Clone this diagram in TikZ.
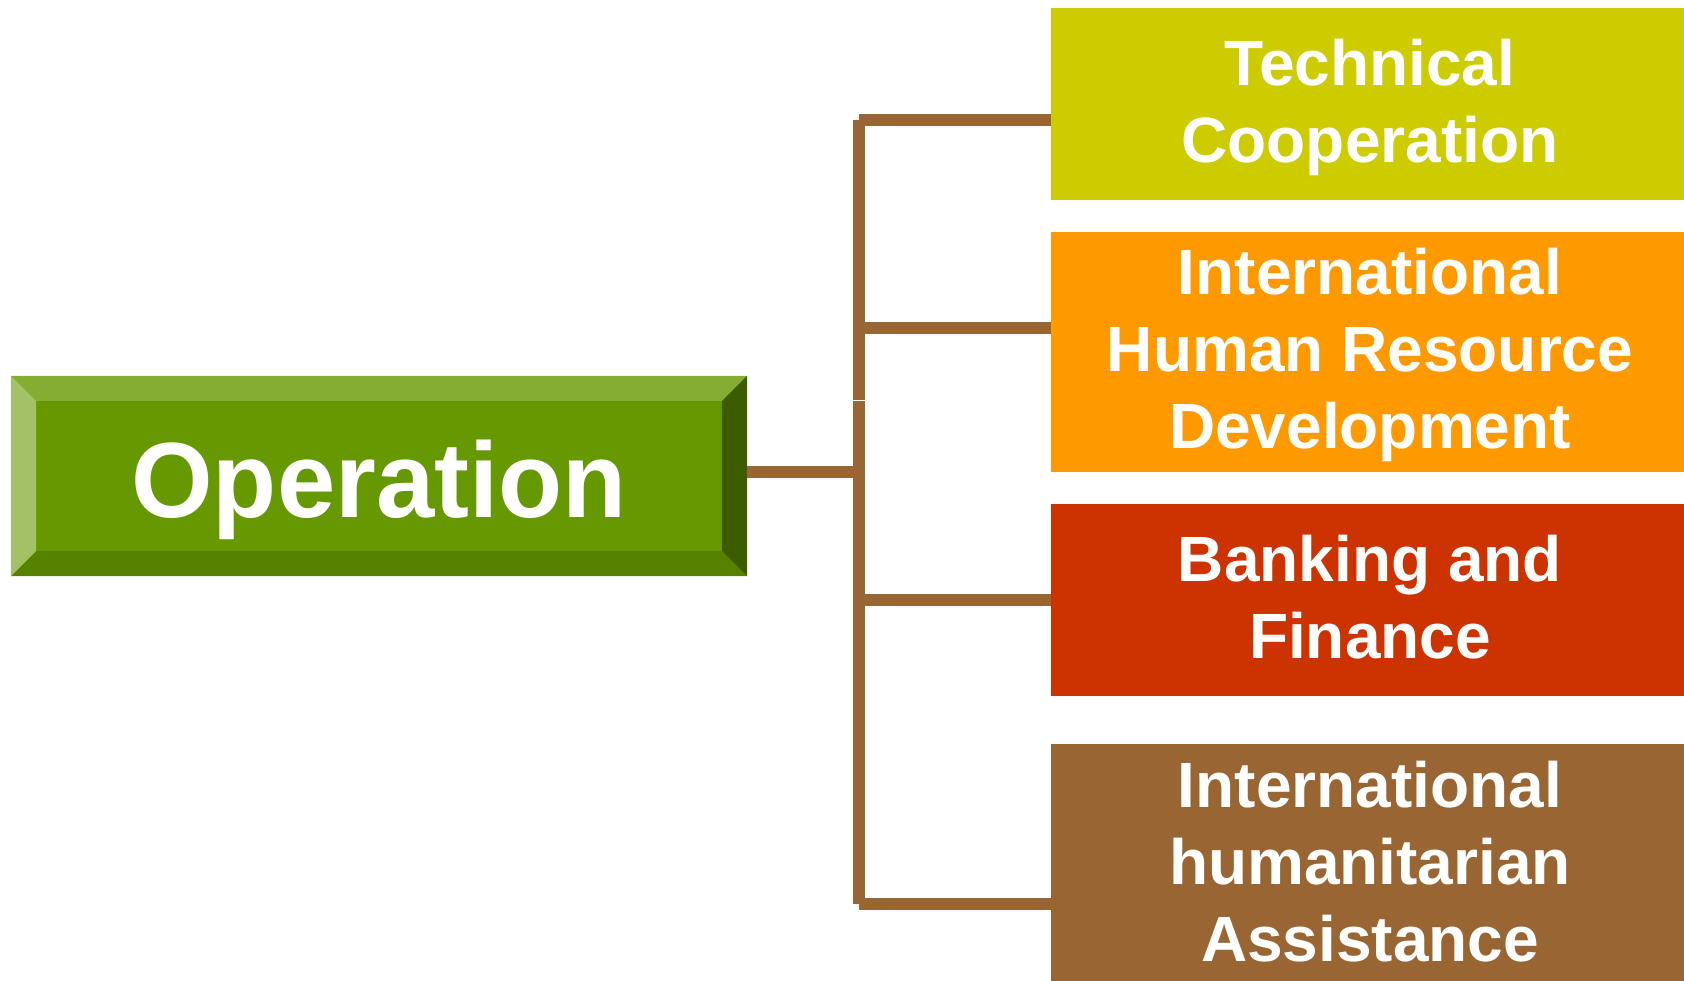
\documentclass[tikz,border=0pt]{standalone}
\usepackage{fontspec}
\newfontfamily\boxfont{Liberation Sans}
\newfontfamily\opfont[FakeStretch=0.98]{Liberation Sans}
\definecolor{conncol}{HTML}{996633}
\definecolor{opmid}{HTML}{669900}
\definecolor{optop}{HTML}{85AD33}
\definecolor{opleft}{HTML}{A3C266}
\definecolor{opbot}{HTML}{578200}
\definecolor{opright}{HTML}{3D5C00}
\definecolor{tccol}{HTML}{CCCC00}
\definecolor{hrcol}{HTML}{FF9900}
\definecolor{bfcol}{HTML}{CC3300}
\definecolor{hacol}{HTML}{996633}
\tikzset{
  catbox/.style={rectangle, inner sep=0pt, outer sep=0pt, minimum width=633pt},
  cattext/.style={text=white, align=center, inner sep=0pt, outer sep=0pt,
    font=\boxfont\bfseries\fontsize{64}{77}\selectfont,
    execute at begin node=\strut, execute at end node=\strut},
  conn/.style={draw=conncol, line width=12pt, line cap=butt},
}
\begin{document}
\begin{tikzpicture}[x=1pt,y=-1pt]
\useasboundingbox (0,0) rectangle (1684,981);
% Operation box with bevel
\node[rectangle, inner sep=0pt, outer sep=0pt, minimum width=736pt, minimum height=200pt, fill=opmid] (op) at (379,476) {};
\fill[optop] (op.north west) -- (op.north east) -- ([xshift=-25pt,yshift=-25pt]op.north east) -- ([xshift=25pt,yshift=-25pt]op.north west) -- cycle;
\fill[opbot] (op.south west) -- (op.south east) -- ([xshift=-25pt,yshift=25pt]op.south east) -- ([xshift=25pt,yshift=25pt]op.south west) -- cycle;
\fill[opleft] (op.north west) -- ([xshift=25pt,yshift=-25pt]op.north west) -- ([xshift=25pt,yshift=25pt]op.south west) -- (op.south west) -- cycle;
\fill[opright] (op.north east) -- ([xshift=-25pt,yshift=-25pt]op.north east) -- ([xshift=-25pt,yshift=25pt]op.south east) -- (op.south east) -- cycle;
\node[anchor=base, text=white, inner sep=0pt, font=\opfont\bfseries\fontsize{107}{120}\selectfont] (optext) at (379,517) {Operation};
% category boxes
\node[catbox, fill=tccol, minimum height=192pt] (tc) at (1367.5,104) {};
\node[catbox, fill=hrcol, minimum height=240pt] (hr) at (1367.5,352) {};
\node[catbox, fill=bfcol, minimum height=192pt] (bf) at (1367.5,600) {};
\node[catbox, fill=hacol, minimum height=237pt] (ha) at (1367.5,862.5) {};
\node[cattext] (tctext) at (1370,112.6) {Technical\\Cooperation};
\node[cattext] (hrtext) at (1370,360.3) {International\\Human Resource\\Development};
\node[cattext] (bftext) at (1370,608.6) {Banking and\\Finance};
\node[cattext] (hatext) at (1370,872.6) {International\\humanitarian\\Assistance};
% connectors
\coordinate (sop) at (859,472);
\coordinate (stc) at (859,120);
\coordinate (shr) at (859,328);
\coordinate (sbf) at (859,600);
\coordinate (sha) at (859,904);
\coordinate (sbreak) at (859,400);
\coordinate (sbreak2) at (859,401);
\draw[conn] (op.east |- sop) -- ([xshift=6pt]sop);
\draw[conn] (stc) -- (sbreak);
\draw[conn] (sbreak2) -- (sha);
\draw[conn] (stc) -- (stc -| tc.west);
\draw[conn] ([xshift=-6pt]shr) -- (shr -| hr.west);
\draw[conn] ([xshift=-6pt]sbf) -- (sbf -| bf.west);
\draw[conn] (sha) -- (sha -| ha.west);
\end{tikzpicture}
\end{document}
